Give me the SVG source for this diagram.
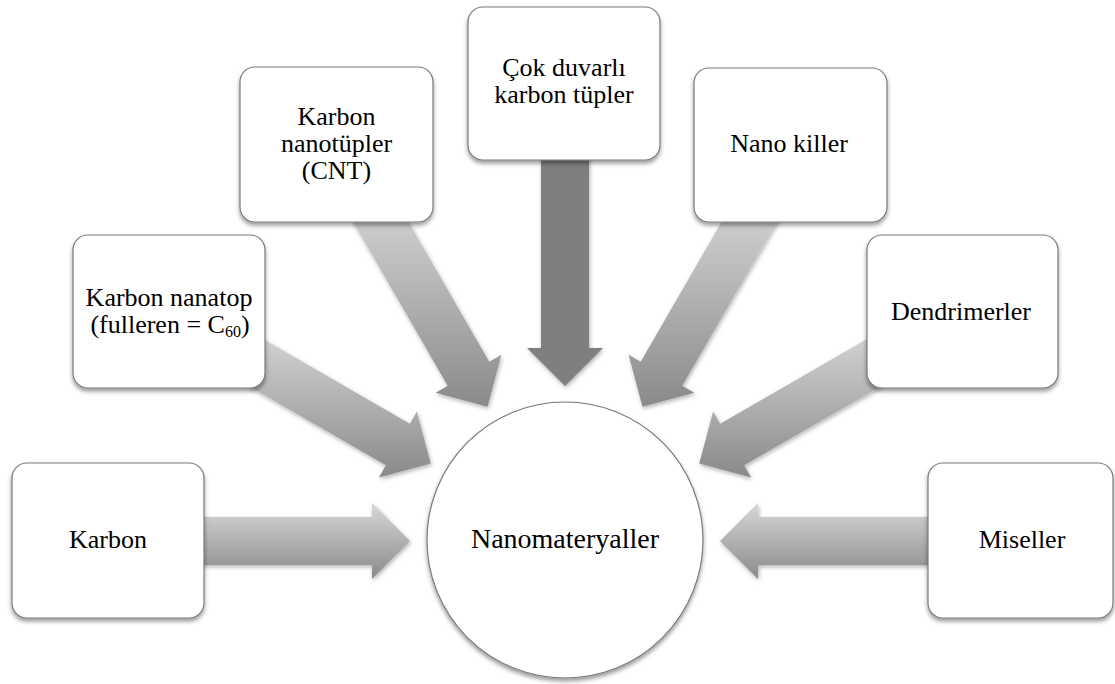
<svg xmlns="http://www.w3.org/2000/svg" width="1115" height="684" viewBox="0 0 1115 684">
<defs>
<linearGradient id="arrGrad" x1="0" y1="0" x2="0" y2="1">
<stop offset="0" stop-color="#d8d8d8"/>
<stop offset="1" stop-color="#8a8a8a"/>
</linearGradient>
<filter id="arrShadow" x="-20%" y="-20%" width="140%" height="140%">
<feDropShadow dx="1" dy="2" stdDeviation="2" flood-color="#000" flood-opacity="0.3"/>
</filter>
<filter id="boxShadow" x="-10%" y="-10%" width="120%" height="125%">
<feDropShadow dx="0" dy="3" stdDeviation="2.2" flood-color="#000" flood-opacity="0.4"/>
</filter>
</defs>
<style>
.arrow{fill:url(#arrGrad);filter:url(#arrShadow);}
.arrow.dark{fill:#7f7f7f;}
.box{fill:#ffffff;stroke:#7a7a7a;stroke-width:1.2;filter:url(#boxShadow);}
.hub{fill:#ffffff;stroke:#7a7a7a;stroke-width:1.2;filter:url(#boxShadow);}
text{font-family:'Liberation Serif','Times New Roman',serif;fill:#000;text-anchor:middle;}
.lbl{font-size:26px;}
.hubl{font-size:28px;}
</style>
<g id="connectors">
<polygon class="arrow" points="175,517 372,517 372,503 410,541 372,579 372,565 175,565"/>
<polygon class="arrow" points="239.25,325.22 409.86,423.72 416.86,411.59 430.77,463.5 378.86,477.41 385.86,465.28 215.25,366.78"/>
<polygon class="arrow" points="390.78,191.25 489.28,361.86 501.41,354.86 487.5,406.77 435.59,392.86 447.72,385.86 349.22,215.25"/>
<polygon class="arrow dark" points="589,151 589,348 603,348 565,386 527,348 541,348 541,151"/>
<polygon class="arrow" points="780.78,215.25 682.28,385.86 694.41,392.86 642.5,406.77 628.59,354.86 640.72,361.86 739.22,191.25"/>
<polygon class="arrow" points="914.75,366.78 744.14,465.28 751.14,477.41 699.23,463.5 713.14,411.59 720.14,423.72 890.75,325.22"/>
<polygon class="arrow" points="955,517 758,517 758,503 720,541 758,579 758,565 955,565"/>
</g>
<g id="node-hub">
<circle class="hub" cx="565" cy="540" r="138"/>
<text class="hubl" x="565" y="548">Nanomateryaller</text>
</g>
<g id="node-karbon">
<rect class="box" x="12" y="463" width="192" height="155" rx="15"/>
<text class="lbl" x="108" y="548">Karbon</text>
</g>
<g id="node-nanatop">
<rect class="box" x="73" y="235" width="192" height="153" rx="15"/>
<text class="lbl" x="169" y="306">Karbon nanatop<tspan x="170" dy="27">(fulleren = C</tspan><tspan font-size="16" dy="4">60</tspan><tspan dy="-4">)</tspan></text>
</g>
<g id="node-cnt">
<rect class="box" x="240" y="67" width="193" height="155" rx="15"/>
<text class="lbl" x="336.5" y="125">Karbon<tspan x="336.5" dy="27">nanotüpler</tspan><tspan x="336.5" dy="27">(CNT)</tspan></text>
</g>
<g id="node-cok">
<rect class="box" x="468" y="7" width="192" height="153" rx="15"/>
<text class="lbl" x="564" y="76">Çok duvarlı<tspan x="564" dy="27">karbon tüpler</tspan></text>
</g>
<g id="node-nanokiller">
<rect class="box" x="694" y="68" width="193" height="154" rx="15"/>
<text class="lbl" x="789" y="152">Nano killer</text>
</g>
<g id="node-dendrimer">
<rect class="box" x="867" y="235" width="191" height="153" rx="15"/>
<text class="lbl" x="961" y="320">Dendrimerler</text>
</g>
<g id="node-miseller">
<rect class="box" x="928" y="463" width="185" height="155" rx="15"/>
<text class="lbl" x="1022" y="548">Miseller</text>
</g>
</svg>
